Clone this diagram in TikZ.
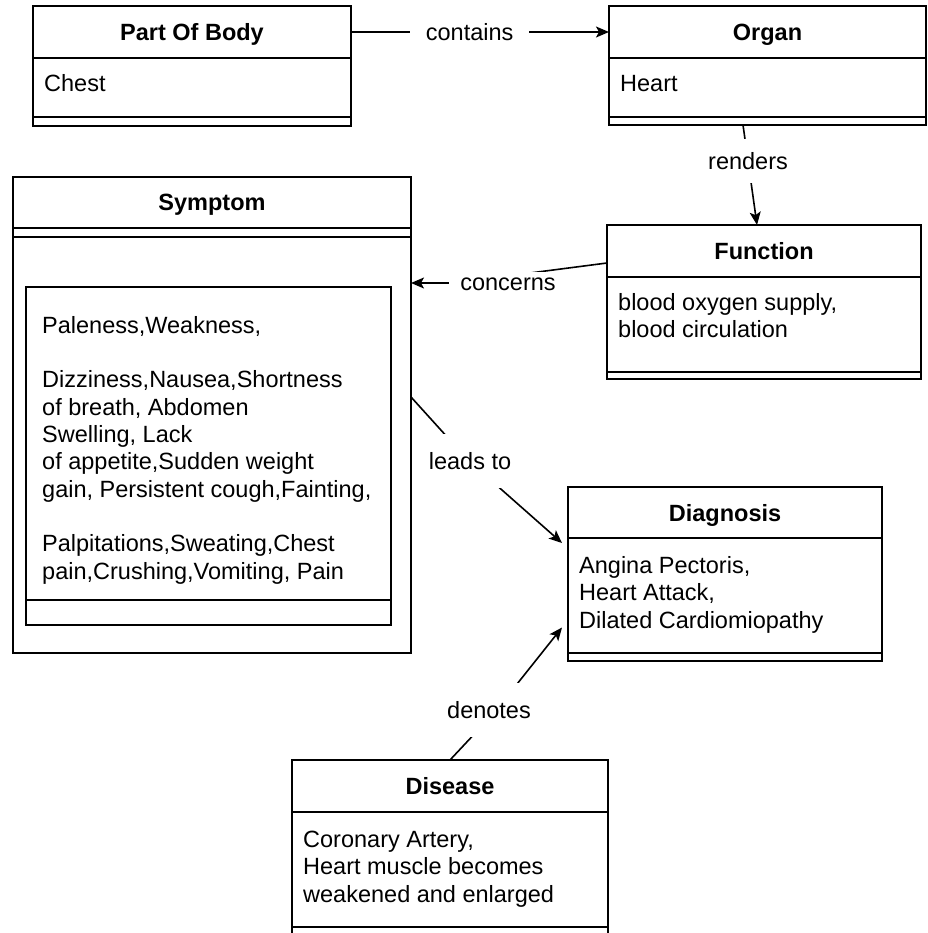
\documentclass[tikz,border=0pt]{standalone}
\usepackage{fontspec}
\setmainfont{Liberation Sans}
\usetikzlibrary{arrows.meta,calc}
\begin{document}
\begin{tikzpicture}[x=1pt,y=-1pt,
  every node/.style={font=\fontsize{23.5}{27.3}\selectfont},
  comp/.style={draw, line width=1.6pt, rectangle, inner sep=0pt, outer sep=0pt, anchor=north west},
  ttl/.style={font=\fontsize{23.5}{27.3}\selectfont\bfseries, text depth=0pt},
  txt/.style={anchor=base west, inner sep=0pt, align=left},
  lbl/.style={fill=white, inner xsep=4pt, inner ysep=3pt},
  conn/.style={line width=1.6pt},
  arr/.style={line width=1.6pt, -{Stealth[length=13pt,width=11pt,inset=3pt]}}
]
\path[use as bounding box, fill=white] (0,0) rectangle (927,933);
\clip (0,0) rectangle (927,933);

% Part Of Body
\node[comp, ttl, minimum width=318pt, minimum height=52pt] (bodyH) at (33,6) {Part Of Body};
\node[comp, minimum width=318pt, minimum height=59pt] (bodyA) at (bodyH.south west) {};
\node[comp, minimum width=318pt, minimum height=9pt] (bodyF) at (bodyA.south west) {};
\node[txt] (bodyT) at (44,92) {Chest};

% Organ
\node[comp, ttl, minimum width=317pt, minimum height=52pt] (organH) at (609,6) {Organ};
\node[comp, minimum width=317pt, minimum height=59pt] (organA) at (organH.south west) {};
\node[comp, minimum width=317pt, minimum height=8pt] (organF) at (organA.south west) {};
\node[txt] (organT) at (620,92) {Heart};

% Symptom
\node[comp, minimum width=398pt, minimum height=476pt] (sym) at (13,177) {};
\node[comp, ttl, minimum width=398pt, minimum height=51pt] (symH) at (sym.north west) {Symptom};
\node[comp, minimum width=398pt, minimum height=9pt] (symA) at (symH.south west) {};
\node[comp, minimum width=365pt, minimum height=313pt] (symI) at (26,287) {};
\node[comp, minimum width=365pt, minimum height=25pt] (symIF) at (symI.south west) {};
\node[txt] (symT) at (42,579) {Paleness,Weakness,\\[27.3pt]
Dizziness,Nausea,Shortness\\
of breath, Abdomen\\
Swelling, Lack\\
of appetite,Sudden weight\\
gain, Persistent cough,Fainting,\\[27.3pt]
Palpitations,Sweating,Chest\\
pain,Crushing,Vomiting, Pain};

% Function
\node[comp, ttl, minimum width=314pt, minimum height=52pt] (funcH) at (607,225) {Function};
\node[comp, minimum width=314pt, minimum height=95pt] (funcA) at (funcH.south west) {};
\node[comp, minimum width=314pt, minimum height=7pt] (funcF) at (funcA.south west) {};
\node[txt, font=\fontsize{23.5}{26.5}\selectfont] (funcT) at (618,337) {blood oxygen supply,\\blood circulation};

% Diagnosis
\node[comp, ttl, minimum width=314pt, minimum height=51pt] (diagH) at (568,487) {Diagnosis};
\node[comp, minimum width=314pt, minimum height=115pt] (diagA) at (diagH.south west) {};
\node[comp, minimum width=314pt, minimum height=8pt] (diagF) at (diagA.south west) {};
\node[txt] (diagT) at (579,628) {Angina Pectoris,\\Heart Attack,\\Dilated Cardiomiopathy};

% Disease
\node[comp, ttl, minimum width=316pt, minimum height=52pt] (disH) at (292,760) {Disease};
\node[comp, minimum width=316pt, minimum height=115pt] (disA) at (disH.south west) {};
\node[comp, minimum width=316pt, minimum height=10pt] (disF) at (disA.south west) {};
\node[txt] (disT) at (303,902) {Coronary Artery,\\Heart muscle becomes\\weakened and enlarged};

% Connectors
\draw[arr] (bodyH.east) -- node[lbl, pos=0.46, inner xsep=16pt] (lContains) {contains} (organH.west);

\draw[arr] ($(organF.south west)+(134,0)$) -- node[lbl, pos=0.36, inner xsep=3pt, inner ysep=13pt] (lRenders) {renders} ($(funcH.north west)+(150,0)$);

\draw[arr] ($(funcH.west)+(0,12)$) -- (530,273) -- (495,283) -- ($(sym.north east)+(0,106)$);
\node[lbl, inner xsep=11pt, inner ysep=6pt] (lConcerns) at (508,284) {concerns};

\draw[arr] ($(sym.north east)+(0,220)$) -- (468,460) -- ($(diagH.south west)+(-6,5)$);
\node[lbl, inner xsep=3pt, inner ysep=18pt] (lLeads) at (470,461) {leads to};

\draw[arr] ($(disH.north west)+(158,0)$) -- (494,713) -- ($(diagA.west)+(-6,32)$);
\node[lbl, inner xsep=3pt, inner ysep=18pt] (lDenotes) at (489,710) {denotes};
\end{tikzpicture}
\end{document}
